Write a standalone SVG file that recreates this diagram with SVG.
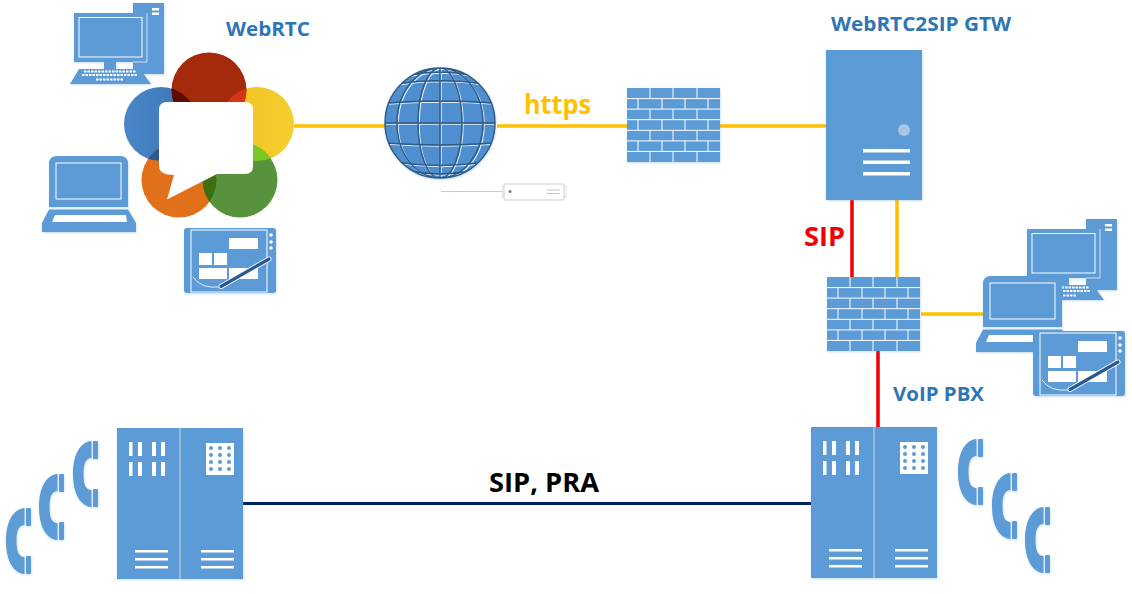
<svg xmlns="http://www.w3.org/2000/svg" xmlns:xlink="http://www.w3.org/1999/xlink" width="1132" height="594" viewBox="0 0 1132 594">
<style>
.b{fill:#5b9bd5}
.w{fill:#fff}
.f{fill:none;stroke:#fff}
.t{font-family:"Open Sans","Noto Sans","Liberation Sans",sans-serif;font-weight:700}
.blue{fill:#2e75b6}
.or{stroke:#ffc000;stroke-width:3.5;fill:none}
.red{stroke:#f00000;stroke-width:3.5;fill:none}
.soft{filter:url(#sh)}
</style>
<defs>
<filter id="sh" x="-10%" y="-10%" width="120%" height="120%"><feDropShadow dx="0.5" dy="1" stdDeviation="1" flood-color="#5b9bd5" flood-opacity="0.35"/></filter>
<clipPath id="cr"><circle cx="209" cy="90" r="37.5"/></clipPath>
<clipPath id="cy"><circle cx="257" cy="124" r="37"/></clipPath>
<clipPath id="cg"><circle cx="240" cy="180" r="37.5"/></clipPath>
<clipPath id="co"><circle cx="179" cy="180" r="37.5"/></clipPath>
<clipPath id="cb"><circle cx="161" cy="124" r="37"/></clipPath>
<clipPath id="globe"><circle cx="440" cy="123" r="55"/></clipPath>
<linearGradient id="gb" x1="0" x2="1" y1="0" y2="0"><stop offset="0" stop-color="#4a86c8"/><stop offset="1" stop-color="#3a74b4"/></linearGradient>
<linearGradient id="gy" x1="0" x2="1" y1="0" y2="0"><stop offset="0" stop-color="#f0c020"/><stop offset="1" stop-color="#f4cf30"/></linearGradient>
<path id="grid" d="M440 68V178M385 123H495M386 103Q440 99 494 103M386 143Q440 147 494 143M395 84Q440 77 485 84M395 162Q440 169 485 162M410 75Q440 69 470 75M410 171Q440 177 470 171"/>
<g id="desktop" class="soft">
<rect class="b" x="133" y="3" width="31" height="71"/>
<rect class="w" x="152" y="8" width="7" height="2.500"/><rect class="w" x="152" y="12.500" width="7" height="2.500"/>
<rect class="b" x="74" y="13" width="73" height="49"/>
<path d="M147 13V62H133" fill="none" stroke="#cfe0f2" stroke-width="1"/>
<rect class="f" x="79" y="17.500" width="63" height="39.500" stroke-width="1"/>
<rect class="b" x="104" y="62" width="12" height="7"/>
<path class="b" d="M79 69H140L151 84H70Z"/>
<path d="M84 71.500H136M82 75H138M96 79.500H124" stroke="#fff" stroke-width="2" stroke-dasharray="2.500 1" fill="none"/>
</g>
<g id="laptop" class="soft">
<path class="b" d="M49 207V164Q49 156 57 156H120Q128 156 128 164V207Z"/>
<rect class="f" x="56" y="163" width="65" height="36" stroke-width="1"/>
<path class="b" d="M49 209.500H128L136 223V232H42V223Z"/>
<path class="w" d="M55 215H126L127 222H52Z"/>
</g>
<g id="tablet" class="soft">
<rect class="b" x="184" y="228" width="92" height="65" rx="3"/>
<rect class="f" x="191" y="230" width="76" height="62" stroke-width="1"/>
<circle class="w" cx="271" cy="235" r="1.800"/><circle class="w" cx="271" cy="242" r="1.800"/><circle class="w" cx="271" cy="248" r="1.800"/>
<rect class="w" x="229" y="238" width="29" height="11"/>
<rect class="w" x="199" y="253" width="13" height="12"/>
<rect class="w" x="214" y="253" width="13" height="12"/>
<rect class="w" x="199" y="268" width="28" height="11"/>
<rect class="w" x="229" y="268" width="29" height="11"/>
<path class="f" d="M193 277Q201 289 220 287" stroke-width="0.800"/>
<path d="M221 286.500L269 259" stroke="#fff" stroke-width="5" stroke-linecap="round" fill="none"/>
<path d="M221 286.500L269 259" stroke="#2a5a94" stroke-width="3.200" stroke-linecap="round" fill="none"/>
</g>
<g id="wall" class="soft">
<rect class="b" x="627" y="88" width="93" height="74"/>
<path class="f" stroke-width="1" d="M627 98.600H720M627 109.100H720M627 119.700H720M627 130.300H720M627 140.900H720M627 151.400H720M650 88V98.600M673 88V98.600M697 88V98.600M638 98.600V109.100M662 98.600V109.100M685 98.600V109.100M708 98.600V109.100M650 109.100V119.700M673 109.100V119.700M697 109.100V119.700M638 119.700V130.300M662 119.700V130.300M685 119.700V130.300M708 119.700V130.300M650 130.300V140.900M673 130.300V140.900M697 130.300V140.900M638 140.900V151.400M662 140.900V151.400M685 140.900V151.400M708 140.900V151.400M650 151.400V162M673 151.400V162M697 151.400V162"/>
</g>
<g id="rack" class="soft">
<rect class="b" x="117" y="428" width="126" height="151"/>
<path d="M180 428V579" stroke="#b8d2ec" stroke-width="1.200"/>
<path class="w" d="M129 442h3.500v14h-3.500zM138 442h4v14h-4zM152 442h4v14h-4zM161 442h4v14h-4zM129 462h3.500v14h-3.500zM138 462h4v14h-4zM152 462h4v14h-4zM161 462h4v14h-4z"/>
<rect class="w" x="206" y="443" width="28" height="32"/>
<g class="b"><circle cx="211" cy="448" r="2"/><circle cx="220" cy="448" r="2"/><circle cx="229" cy="448" r="2"/><circle cx="211" cy="455" r="2"/><circle cx="220" cy="455" r="2"/><circle cx="229" cy="455" r="2"/><circle cx="211" cy="462" r="2"/><circle cx="220" cy="462" r="2"/><circle cx="229" cy="462" r="2"/><circle cx="211" cy="469" r="2"/><circle cx="220" cy="469" r="2"/><circle cx="229" cy="469" r="2"/></g>
<path class="w" d="M135 550h33v2.500h-33zM135 558h33v2.500h-33zM135 566h33v2.500h-33zM201 550h33v2.500h-33zM201 558h33v2.500h-33zM201 566h33v2.500h-33z"/>
</g>
<g id="phone" class="soft">
<path class="b" d="M18.500 0V17C13 17 10.500 22 10.500 33C10.500 44 13 49 18.500 49V66C6 65 0 50 0 33C0 16 6 1 18.500 0Z"/>
<rect class="b" x="20" y="0" width="5" height="18" rx="1"/>
<rect class="b" x="20" y="48" width="5" height="18" rx="1"/>
</g>
</defs>

<g id="connectors">
<path class="or" d="M294 126H385M497 126H627M720 126H826M897 200V277M921 314H983"/>
<path class="red" d="M852 200V277M878 351V428"/>
<path d="M243 503.500H811" stroke="#002060" stroke-width="3" fill="none"/>
</g>

<g id="webrtc-logo">
<circle cx="161" cy="124" r="37" fill="url(#gb)"/>
<circle cx="257" cy="124" r="37" fill="url(#gy)"/>
<circle cx="179" cy="180" r="37.500" fill="#e1701a"/>
<circle cx="240" cy="180" r="37.500" fill="#57933c"/>
<circle cx="209" cy="90" r="37.500" fill="#a52a0c"/>
<circle cx="161" cy="124" r="37" fill="#5a0e04" clip-path="url(#cr)"/>
<circle cx="257" cy="124" r="37" fill="#d8341a" clip-path="url(#cr)"/>
<circle cx="240" cy="180" r="37.500" fill="#77c826" clip-path="url(#cy)"/>
<circle cx="240" cy="180" r="37.500" fill="#3f6e10" clip-path="url(#co)"/>
<circle cx="179" cy="180" r="37.500" fill="#2c5a8e" clip-path="url(#cb)"/>
<path class="w" d="M167 102H245Q253 102 253 110V166Q253 174 245 174H217L167 199.500L174 175Q159 175 159 166V110Q159 102 167 102Z"/>
</g>
<g id="desktop-web"><use href="#desktop"/></g>
<g id="laptop-web"><use href="#laptop"/></g>
<g id="tablet-web"><use href="#tablet"/></g>
<g id="webrtc-label"><text class="t blue" x="226" y="36" font-size="19" textLength="84" lengthAdjust="spacingAndGlyphs">WebRTC</text></g>

<g id="internet" class="soft">
<circle cx="440" cy="123" r="55" fill="#4f8fd0"/>
<g clip-path="url(#globe)" fill="none">
<g stroke="#e6f0fa" stroke-width="1.100" transform="translate(1.200 1.200)">
<use href="#grid"/>
<ellipse cx="440" cy="123" rx="22" ry="55"/><ellipse cx="440" cy="123" rx="43" ry="55"/>
</g>
<g stroke="#2d5a84" stroke-width="1.400">
<use href="#grid"/>
<ellipse cx="440" cy="123" rx="22" ry="55"/><ellipse cx="440" cy="123" rx="43" ry="55"/>
</g>
</g>
<circle cx="440" cy="123" r="55" fill="none" stroke="#2d5a84" stroke-width="1.400"/>
</g>

<g id="device">
<path d="M441 191.500H502" stroke="#c8ccd2" stroke-width="1" fill="none"/>
<rect x="502.500" y="186" width="3" height="11" fill="#fff" stroke="#d0d4da" stroke-width="0.700"/>
<rect x="563" y="186" width="3" height="11" fill="#fff" stroke="#d0d4da" stroke-width="0.700"/>
<rect x="504" y="184" width="60" height="16" rx="1" fill="#fff" stroke="#c8ccd2" stroke-width="1"/>
<circle cx="510" cy="191.500" r="1.500" fill="#77808a"/>
<path d="M547 190H560M547 193.500H560" stroke="#c0c4ca" stroke-width="1" fill="none"/>
</g>
<g id="https-label"><text class="t" fill="#ffc000" x="524" y="114" font-size="26" textLength="67" lengthAdjust="spacingAndGlyphs">https</text></g>
<g id="firewall-top"><use href="#wall"/></g>
<g id="gateway">
<rect class="b soft" x="826" y="50" width="96" height="150"/>
<circle cx="904" cy="130" r="6" fill="#a9c4e2"/>
<path class="w" d="M863 149h47v3.500h-47zM863 160.500h47v3.500h-47zM863 172h47v3.500h-47z"/>
</g>
<g id="gateway-label"><text class="t blue" x="831" y="31" font-size="19" textLength="180" lengthAdjust="spacingAndGlyphs">WebRTC2SIP GTW</text></g>
<g id="sip-label"><text class="t" fill="#f00000" x="804" y="246" font-size="26" textLength="41" lengthAdjust="spacingAndGlyphs">SIP</text></g>
<g id="firewall-bottom"><use href="#wall" x="200" y="189"/></g>
<g id="desktop-lan"><use href="#desktop" x="953" y="216"/></g>
<g id="laptop-lan"><use href="#laptop" x="934" y="120"/></g>
<g id="tablet-lan"><use href="#tablet" x="849" y="103"/></g>
<g id="voip-label"><text class="t blue" x="893" y="401" font-size="19" textLength="91" lengthAdjust="spacingAndGlyphs">VoIP PBX</text></g>
<g id="link-label"><text class="t" fill="#000" x="489" y="492" font-size="26" textLength="110" lengthAdjust="spacingAndGlyphs">SIP, PRA</text></g>
<g id="rack-left"><use href="#rack"/></g>
<g id="rack-right"><use href="#rack" x="694" y="-1"/></g>
<g id="phone-l1"><use href="#phone" x="6" y="508"/></g>
<g id="phone-l2"><use href="#phone" x="39" y="474"/></g>
<g id="phone-l3"><use href="#phone" x="73" y="441"/></g>
<g id="phone-r1"><use href="#phone" x="958" y="439"/></g>
<g id="phone-r2"><use href="#phone" x="992" y="473"/></g>
<g id="phone-r3"><use href="#phone" x="1025" y="507"/></g>
</svg>
